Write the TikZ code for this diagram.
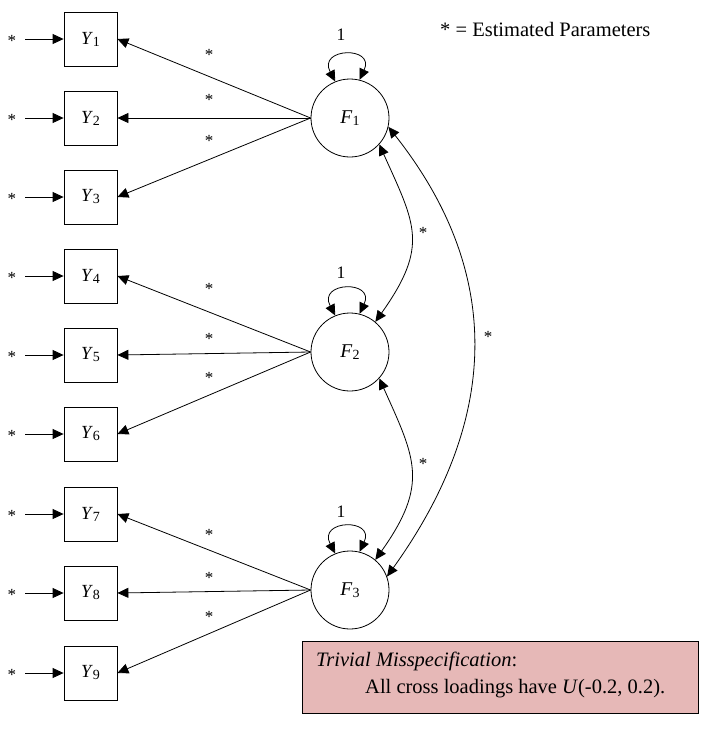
\documentclass[tikz,border=0pt]{standalone}
\usepackage{fontspec}
\setmainfont{Liberation Serif}
\usepackage{tikz}
\usetikzlibrary{arrows.meta,calc}

\newcommand{\vlab}[2]{\textit{#1}\raisebox{-2pt}{\fontsize{14}{14}\selectfont #2}}

\begin{document}
\begin{tikzpicture}[x=1pt,y=-1pt,
    obs/.style={draw, line width=0.8pt, minimum width=53pt, minimum height=54pt, inner sep=0pt, font=\fontsize{18.5}{20}\selectfont},
    lat/.style={draw, circle, line width=0.8pt, minimum size=78pt, inner sep=0pt, font=\fontsize{19.5}{20}\selectfont},
    est/.style={inner sep=1pt, font=\fontsize{17}{18}\selectfont},
    one/.style={inner sep=0pt, font=\fontsize{17.5}{18}\selectfont},
    arr/.style={-{Triangle[length=11pt,width=10pt]}, line width=0.8pt},
    cov/.style={{Triangle[length=11pt,width=10pt]}-{Triangle[length=11pt,width=10pt]}, line width=0.8pt},
    note/.style={draw, line width=0.8pt, fill={rgb,255:red,230;green,184;blue,183}, minimum width=396pt, minimum height=72pt, inner sep=0pt},
    txt/.style={anchor=base west, inner sep=0pt, font=\fontsize{20.5}{22}\selectfont}]
    \useasboundingbox (0,0) rectangle (711,729);

    % Indicators
    \node[obs] (Y1) at (90.5,39) {\vlab{Y}{1}};
    \node[obs] (Y2) at (90.5,118) {\vlab{Y}{2}};
    \node[obs] (Y3) at (90.5,197) {\vlab{Y}{3}};
    \node[obs] (Y4) at (90.5,276) {\vlab{Y}{4}};
    \node[obs] (Y5) at (90.5,355) {\vlab{Y}{5}};
    \node[obs] (Y6) at (90.5,434) {\vlab{Y}{6}};
    \node[obs] (Y7) at (90.5,514) {\vlab{Y}{7}};
    \node[obs] (Y8) at (90.5,593) {\vlab{Y}{8}};
    \node[obs] (Y9) at (90.5,673) {\vlab{Y}{9}};

    % Factors
    \node[lat] (F1) at (350,118) {\vlab{F}{1}};
    \node[lat] (F2) at (350,352) {\vlab{F}{2}};
    \node[lat] (F3) at (350,590) {\vlab{F}{3}};

    % Error terms
    \node[est] (e1) at (12,41) {*};
    \node[est] (e2) at (12,120) {*};
    \node[est] (e3) at (12,199) {*};
    \node[est] (e4) at (12,278) {*};
    \node[est] (e5) at (12,357) {*};
    \node[est] (e6) at (12,436) {*};
    \node[est] (e7) at (12,516) {*};
    \node[est] (e8) at (12,595) {*};
    \node[est] (e9) at (12,675) {*};
    \draw[arr, shorten <=8pt] (e1.east |- Y1.west) -- (Y1.west);
    \draw[arr, shorten <=8pt] (e2.east |- Y2.west) -- (Y2.west);
    \draw[arr, shorten <=8pt] (e3.east |- Y3.west) -- (Y3.west);
    \draw[arr, shorten <=8pt] (e4.east |- Y4.west) -- (Y4.west);
    \draw[arr, shorten <=8pt] (e5.east |- Y5.west) -- (Y5.west);
    \draw[arr, shorten <=8pt] (e6.east |- Y6.west) -- (Y6.west);
    \draw[arr, shorten <=8pt] (e7.east |- Y7.west) -- (Y7.west);
    \draw[arr, shorten <=8pt] (e8.east |- Y8.west) -- (Y8.west);
    \draw[arr, shorten <=8pt] (e9.east |- Y9.west) -- (Y9.west);

    % Loadings
    \draw[arr] (F1.west) -- (Y1.east);
    \draw[arr] (F1.west) -- (Y2.east);
    \draw[arr] (F1.west) -- (Y3.east);
    \draw[arr] (F2.west) -- (Y4.east);
    \draw[arr] (F2.west) -- (Y5.east);
    \draw[arr] (F2.west) -- (Y6.east);
    \draw[arr] (F3.west) -- (Y7.east);
    \draw[arr] (F3.west) -- (Y8.east);
    \draw[arr] (F3.west) -- (Y9.east);
    \node[est] (l1) at (209,55) {*};
    \node[est] (l2) at (209,100) {*};
    \node[est] (l3) at (209,141) {*};
    \node[est] (l4) at (209,289) {*};
    \node[est] (l5) at (209,339) {*};
    \node[est] (l6) at (209,378) {*};
    \node[est] (l7) at (209,535) {*};
    \node[est] (l8) at (209,578) {*};
    \node[est] (l9) at (209,617) {*};

    % Factor variances
    \draw[cov] (F1.112) .. controls +(-18,-34) and +(16,-34) .. (F1.76);
    \draw[cov] (F2.112) .. controls +(-18,-34) and +(16,-34) .. (F2.76);
    \draw[cov] (F3.112) .. controls +(-18,-34) and +(16,-34) .. (F3.76);
    \node[one] (v1) at (341,35) {1};
    \node[one] (v2) at (341,273) {1};
    \node[one] (v3) at (341,512) {1};

    % Factor covariances
    \draw[cov] (F1.-42) .. controls +(36,80) and +(54,-76) .. (F2.50);
    \draw[cov] (F2.-42) .. controls +(36,80) and +(54,-76) .. (F3.50);
    \draw[cov] (F1.-13) .. controls +(128,162) and +(99,-138) .. (F3.20);
    \node[est] (c12) at (423,233) {*};
    \node[est] (c23) at (423,464) {*};
    \node[est] (c13) at (488,337) {*};

    % Key and note
    \node[txt] (key) at (440,36) {* = Estimated Parameters};
    \node[note, anchor=north west] (box) at (302,641) {};
    \node[txt] (t1) at (316,666) {\textit{Trivial Misspecification}:};
    \node[txt] (t2) at (365,693) {All cross loadings have \textit{U}(-0.2, 0.2).};
\end{tikzpicture}
\end{document}
